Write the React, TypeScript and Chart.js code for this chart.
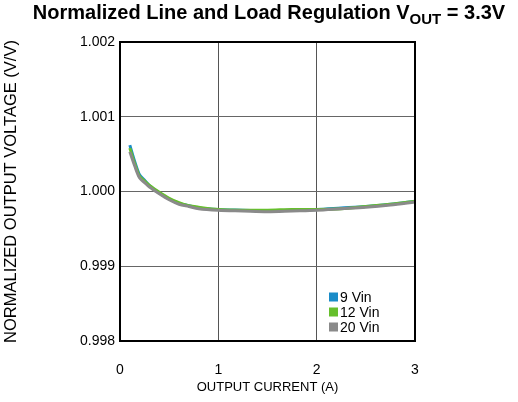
import React, { useEffect, useRef } from 'react';
import { Chart, registerables } from 'chart.js';

Chart.register(...registerables);

const currents = [0.1, 0.15, 0.2, 0.25, 0.3, 0.4, 0.5, 0.6, 0.7, 0.8, 1.0, 1.25, 1.5, 1.75, 2.0, 2.25, 2.5, 2.75, 3.0];
const vin9 = [1.00062, 1.0004, 1.00022, 1.00015, 1.00008, 0.99998, 0.9999, 0.99984, 0.99981, 0.99978, 0.99976, 0.99975, 0.99974, 0.99975, 0.99976, 0.99978, 0.9998, 0.99983, 0.99987];
const vin12 = [1.00058, 1.00037, 1.0002, 1.00014, 1.00008, 0.99999, 0.99991, 0.99985, 0.99981, 0.99979, 0.99976, 0.99975, 0.99975, 0.99976, 0.99976, 0.99977, 0.9998, 0.99983, 0.99987];
const vin20 = [1.00053, 1.00034, 1.00018, 1.00012, 1.00006, 0.99997, 0.99989, 0.99983, 0.9998, 0.99977, 0.99975, 0.99974, 0.99973, 0.99974, 0.99975, 0.99977, 0.99979, 0.99982, 0.99986];
const seriesLabels = ['9 Vin', '12 Vin', '20 Vin'];
const seriesColors = ['#1a8cc8', '#66bf2c', '#8a8a8a'];
const yTicks = [0.998, 0.999, 1.0, 1.001, 1.002];
const xTicks = [0, 1, 2, 3];
const titleMain = 'Normalized Line and Load Regulation V';
const titleSub = 'OUT';
const titleTail = ' = 3.3V';
const xTitle = 'OUTPUT CURRENT (A)';
const yTitle = 'NORMALIZED OUTPUT VOLTAGE (V/V)';

const FONT = '"Liberation Sans", Arial, sans-serif';

const decorPlugin = {
  id: 'decor',
  afterDatasetsDraw(chart: any) {
    const { ctx, chartArea } = chart;
    ctx.save();
    ctx.strokeStyle = '#000';
    ctx.lineWidth = 2;
    ctx.strokeRect(chartArea.left, chartArea.top, chartArea.right - chartArea.left, chartArea.bottom - chartArea.top);
    ctx.font = `14px ${FONT}`;
    ctx.textBaseline = 'middle';
    ctx.textAlign = 'left';
    chart.data.datasets.forEach((ds: any, i: number) => {
      const y = chartArea.bottom - 44 + i * 15;
      const x = chartArea.left + 209;
      ctx.fillStyle = ds.borderColor;
      ctx.fillRect(x, y - 4.5, 9, 9);
      ctx.fillStyle = '#000';
      ctx.fillText(ds.label, x + 11, y + 1);
    });
    const big = `bold 20px ${FONT}`;
    const small = `bold 15px ${FONT}`;
    ctx.font = big;
    const w1 = ctx.measureText(titleMain).width;
    const w3 = ctx.measureText(titleTail).width;
    ctx.font = small;
    const w2 = ctx.measureText(titleSub).width;
    const total = w1 + w2 + w3;
    let x = chart.width / 2 + 10 - total / 2;
    const base = 19;
    ctx.textBaseline = 'alphabetic';
    ctx.fillStyle = '#000';
    ctx.font = big;
    ctx.fillText(titleMain, x, base);
    x += w1;
    ctx.font = small;
    ctx.fillText(titleSub, x, base + 5);
    x += w2;
    ctx.font = big;
    ctx.fillText(titleTail, x, base);
    ctx.restore();
  },
};

export default function App() {
  const ref = useRef<HTMLCanvasElement | null>(null);
  useEffect(() => {
    document.body.style.margin = '0';
    const canvas = ref.current!;
    const mk = (vals: number[]) => currents.map((c, i) => ({ x: c, y: vals[i] }));
    const all = [vin9, vin12, vin20];
    const chart = new Chart(canvas, {
      type: 'line',
      data: {
        datasets: all.map((vals, i) => ({
          label: seriesLabels[i],
          data: mk(vals),
          borderColor: seriesColors[i],
          backgroundColor: seriesColors[i],
          borderWidth: 3,
          pointRadius: 0,
          tension: 0.3,
          fill: false,
          order: all.length - 1 - i,
        })),
      },
      options: {
        animation: false,
        responsive: false,
        layout: { padding: { top: 42, right: 103, left: 0, bottom: 0 } },
        plugins: { legend: { display: false }, title: { display: false }, tooltip: { enabled: false } },
        scales: {
          x: {
            type: 'linear',
            min: 0,
            max: 3,
            afterBuildTicks: (s: any) => { s.ticks = xTicks.map((v) => ({ value: v })); },
            afterFit: (s: any) => { s.height = 61; },
            grid: { color: '#555', lineWidth: 1, drawTicks: false },
            border: { color: '#000', width: 2 },
            ticks: { color: '#000', padding: 21, font: { family: FONT, size: 14 }, callback: (v: any) => String(v) },
            title: { display: true, text: xTitle, color: '#000', font: { family: FONT, size: 13 }, padding: { top: 0, bottom: 7 } },
          },
          y: {
            type: 'linear',
            min: 0.998,
            max: 1.002,
            afterBuildTicks: (s: any) => { s.ticks = yTicks.map((v) => ({ value: v })); },
            afterFit: (s: any) => { s.width = 120; },
            grid: { color: '#666', lineWidth: 1, drawTicks: false },
            border: { color: '#000', width: 2 },
            ticks: { color: '#000', padding: 5, font: { family: FONT, size: 14 }, callback: (v: any) => Number(v).toFixed(3) },
            title: { display: true, text: yTitle, color: '#000', font: { family: FONT, size: 16.5 }, padding: { top: 2, bottom: 0 } },
          },
        },
      },
      plugins: [decorPlugin],
    } as any);
    return () => chart.destroy();
  }, []);
  return (
    <div style={{ width: 518, height: 402 }}>
      <canvas ref={ref} width={518} height={402} style={{ display: 'block' }} />
    </div>
  );
}
